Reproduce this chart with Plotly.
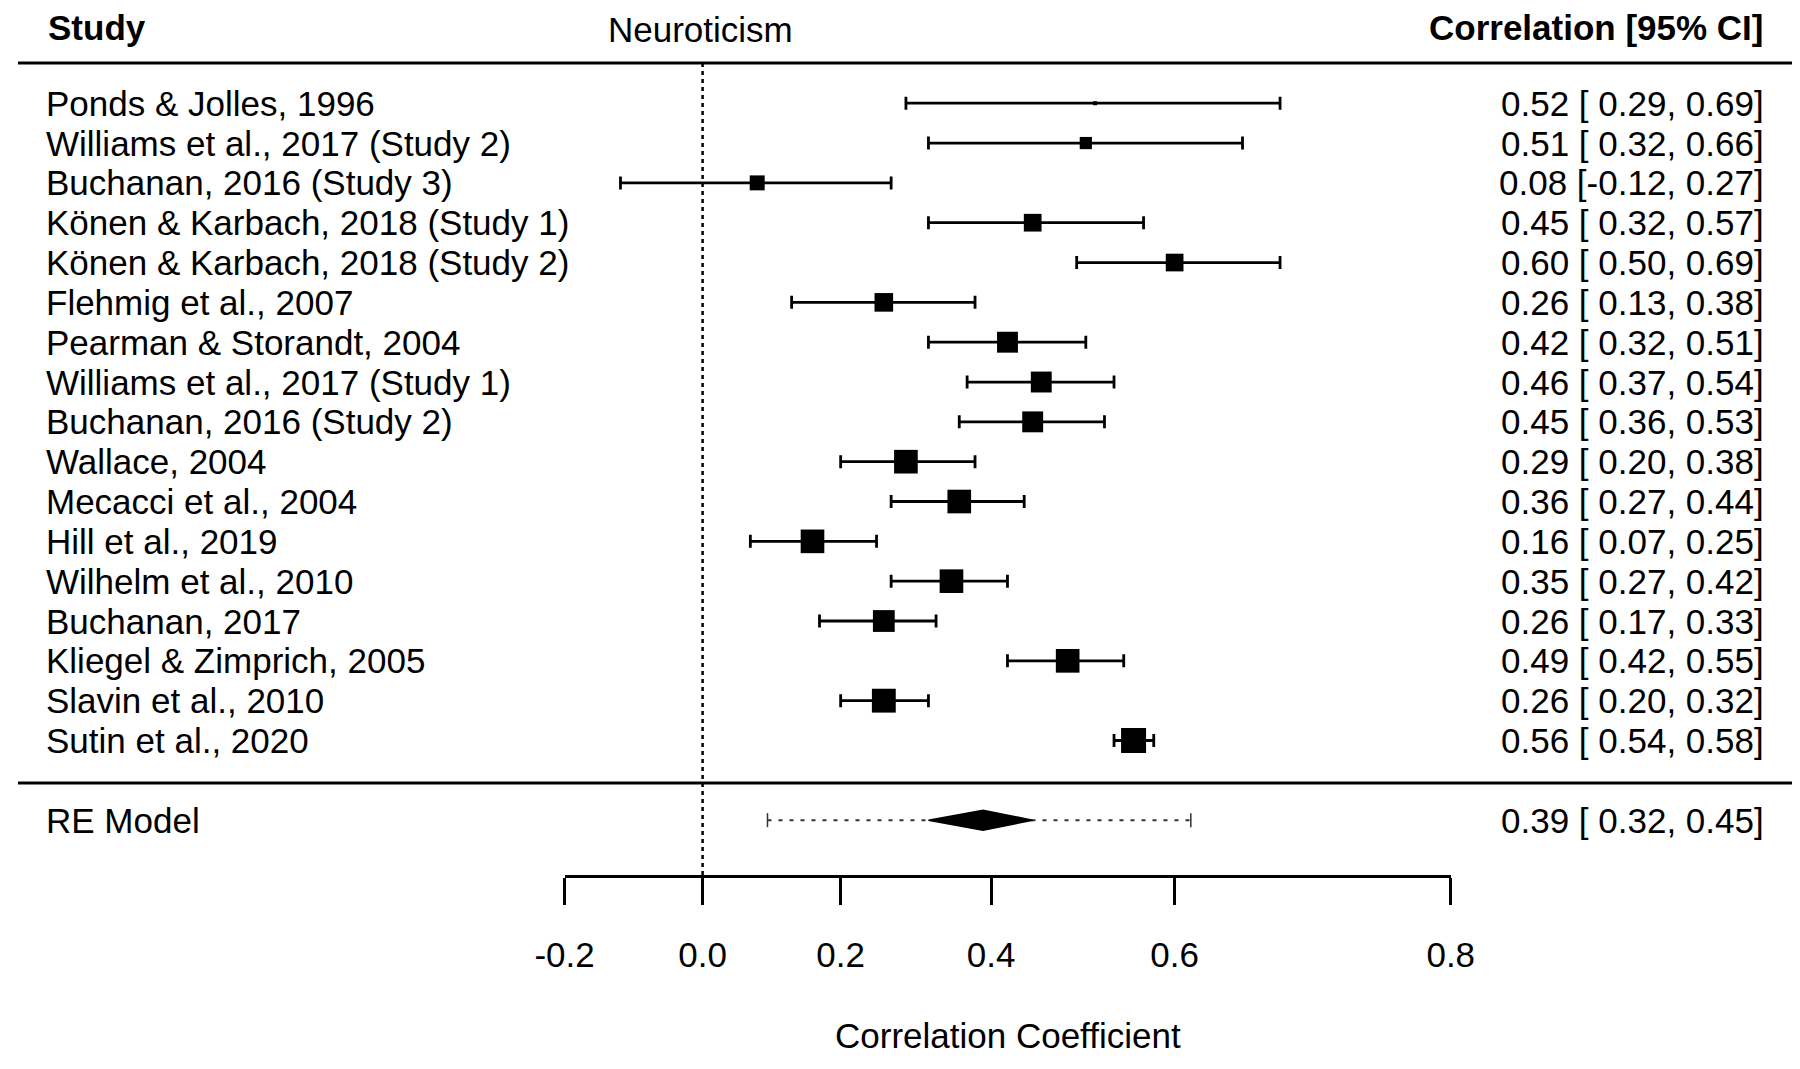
import numpy as np
import plotly.graph_objects as go

# ---------------- data ----------------
studies = [
    "Ponds & Jolles, 1996",
    "Williams et al., 2017 (Study 2)",
    "Buchanan, 2016 (Study 3)",
    "Könen & Karbach, 2018 (Study 1)",
    "Könen & Karbach, 2018 (Study 2)",
    "Flehmig et al., 2007",
    "Pearman & Storandt, 2004",
    "Williams et al., 2017 (Study 1)",
    "Buchanan, 2016 (Study 2)",
    "Wallace, 2004",
    "Mecacci et al., 2004",
    "Hill et al., 2019",
    "Wilhelm et al., 2010",
    "Buchanan, 2017",
    "Kliegel & Zimprich, 2005",
    "Slavin et al., 2010",
    "Sutin et al., 2020",
]
est = [0.52, 0.51, 0.08, 0.45, 0.60, 0.26, 0.42, 0.46, 0.45, 0.29, 0.36, 0.16, 0.35, 0.26, 0.49, 0.26, 0.56]
ci_lo = [0.29, 0.32, -0.12, 0.32, 0.50, 0.13, 0.32, 0.37, 0.36, 0.20, 0.27, 0.07, 0.27, 0.17, 0.42, 0.20, 0.54]
ci_hi = [0.69, 0.66, 0.27, 0.57, 0.69, 0.38, 0.51, 0.54, 0.53, 0.38, 0.44, 0.25, 0.42, 0.33, 0.55, 0.32, 0.58]
weights = [2.0, 3.8, 4.4, 5.0, 5.0, 5.2, 5.7, 5.7, 5.7, 6.3, 6.3, 6.3, 6.3, 5.9, 6.3, 6.35, 6.6]

re_label = "RE Model"
re_est, re_lo, re_hi = 0.39, 0.32, 0.45
pi_lo, pi_hi = 0.095, 0.615

tick_vals = [-0.2, 0.0, 0.2, 0.4, 0.6, 0.8]
header_left = "Study"
header_mid = "Neuroticism"
header_right = "Correlation [95% CI]"
x_title = "Correlation Coefficient"

# ---------------- layout constants (page pixels) ----------------
PAGE_W, PAGE_H = 1800, 1069
OFF = 8                          # default body margin of the html page
W, H = PAGE_W - 2 * OFF, PAGE_H - 2 * OFF
X0_PX = 702.6                    # page pixel of r = 0
PX_PER_Z = 681.0                 # pixels per Fisher-z unit
ROW1_PX = 740.5                  # page pixel of the lowest study row
ROW_PX = 39.83                   # row spacing in px

x0f = X0_PX - OFF
xmin = -x0f / PX_PER_Z
xmax = (W - x0f) / PX_PER_Z
r1f = ROW1_PX - OFF
ytop = 1 + r1f / ROW_PX
ybot = 1 - (H - r1f) / ROW_PX


def py(px):
    """page pixel from top -> paper y"""
    return 1 - (px - OFF) / H


def px_x(px):
    """page pixel from left -> paper x"""
    return (px - OFF) / W


FONT = "Liberation Sans, Arial, sans-serif"
FS = 35
BLACK = "#000000"

k = len(studies)
rows = list(range(k, 0, -1))
z = np.arctanh(np.array(est))
zlo = np.arctanh(np.array(ci_lo))
zhi = np.arctanh(np.array(ci_hi))

w = np.array(weights)
sizes = 4 + (w - w.min()) / (w.max() - w.min()) * 21

fig = go.Figure()

# study estimates with CIs
fig.add_trace(go.Scatter(
    x=z, y=rows, mode="markers",
    marker=dict(symbol="square", size=sizes, color=BLACK, opacity=1, line=dict(width=0)),
    error_x=dict(type="data", symmetric=False, array=zhi - z, arrayminus=z - zlo,
                 color=BLACK, thickness=2.8, width=6.5),
    hoverinfo="skip", showlegend=False,
))

# prediction interval (dotted)
re_y = -1
fig.add_trace(go.Scatter(
    x=np.arctanh([pi_lo, pi_hi]), y=[re_y, re_y], mode="lines+markers",
    line=dict(color="#333333", width=2, dash="4px,7px"),
    marker=dict(symbol="line-ns-open", size=10, opacity=1, line=dict(color="#333333", width=1.5)),
    hoverinfo="skip", showlegend=False,
))

# summary diamond
dh = 10 / ROW_PX
zr = np.arctanh([re_lo, re_est, re_hi, re_est, re_lo])
fig.add_trace(go.Scatter(
    x=zr, y=[re_y, re_y + dh, re_y, re_y - dh, re_y], mode="lines",
    fill="toself", fillcolor=BLACK, line=dict(color=BLACK, width=1.5),
    hoverinfo="skip", showlegend=False,
))

# dummy trace to activate the bottom axis
zt = np.arctanh(tick_vals)
fig.add_trace(go.Scatter(
    x=[zt[0], zt[-1]], y=[re_y, re_y], xaxis="x2", yaxis="y", mode="markers",
    marker=dict(opacity=0), hoverinfo="skip", showlegend=False,
))

shapes = []
# header rule and separator rule
for ypx in (63, 783):
    shapes.append(dict(type="line", xref="paper", yref="paper",
                       x0=px_x(18), x1=px_x(1795), y0=py(ypx), y1=py(ypx),
                       line=dict(color=BLACK, width=3)))
# reference line at r = 0
shapes.append(dict(type="line", xref="x", yref="paper", x0=0, x1=0,
                   y0=py(63), y1=py(876),
                   line=dict(color=BLACK, width=2.5, dash="4px,4px")))

annotations = []
for lab, r, e, lo, hi in zip(studies, rows, est, ci_lo, ci_hi):
    annotations.append(dict(text=lab, x=px_x(43.6), y=r, xref="paper", yref="y",
                            xanchor="left", yanchor="middle", showarrow=False,
                            font=dict(family=FONT, size=FS, color=BLACK)))
    annotations.append(dict(text=f"{e:.2f} [{lo:5.2f},{hi:5.2f}]", x=px_x(1766), y=r,
                            xref="paper", yref="y", xanchor="right", yanchor="middle",
                            showarrow=False, font=dict(family=FONT, size=FS, color=BLACK)))
annotations.append(dict(text=re_label, x=px_x(43.6), y=re_y, xref="paper", yref="y",
                        xanchor="left", yanchor="middle", showarrow=False,
                        font=dict(family=FONT, size=FS, color=BLACK)))
annotations.append(dict(text=f"{re_est:.2f} [{re_lo:5.2f},{re_hi:5.2f}]", x=px_x(1766), y=re_y,
                        xref="paper", yref="y", xanchor="right", yanchor="middle",
                        showarrow=False, font=dict(family=FONT, size=FS, color=BLACK)))
# headers
annotations.append(dict(text=f"<b>{header_left}</b>", x=px_x(46), y=py(28), xref="paper", yref="paper",
                        xanchor="left", yanchor="middle", showarrow=False,
                        font=dict(family=FONT, size=FS, color=BLACK)))
annotations.append(dict(text=header_mid, x=px_x(700), y=py(29), xref="paper", yref="paper",
                        xanchor="center", yanchor="middle", showarrow=False,
                        font=dict(family=FONT, size=FS, color=BLACK)))
annotations.append(dict(text=f"<b>{header_right}</b>", x=px_x(1766), y=py(28), xref="paper", yref="paper",
                        xanchor="right", yanchor="middle", showarrow=False,
                        font=dict(family=FONT, size=FS, color=BLACK)))
annotations.append(dict(text=x_title, x=(zt[0] + zt[-1]) / 2, y=py(1035), xref="x", yref="paper",
                        xanchor="center", yanchor="middle", showarrow=False,
                        font=dict(family=FONT, size=FS, color=BLACK)))

d0 = (zt[0] - xmin) / (xmax - xmin)
d1 = (zt[-1] - xmin) / (xmax - xmin)

fig.update_layout(
    width=W, height=H, autosize=False,
    margin=dict(l=0, r=0, t=0, b=0, pad=0, autoexpand=False),
    paper_bgcolor="white", plot_bgcolor="rgba(0,0,0,0)",
    showlegend=False,
    xaxis=dict(range=[xmin, xmax], visible=False, fixedrange=True, automargin=False),
    yaxis=dict(range=[ybot, ytop], visible=False, fixedrange=True, automargin=False),
    xaxis2=dict(domain=[d0, d1], range=[zt[0], zt[-1]], anchor="free", position=py(876),
                side="bottom", showline=True, linecolor=BLACK, linewidth=2.5,
                ticks="outside", ticklen=27, tickwidth=2.5, tickcolor=BLACK,
                tickmode="array", tickvals=list(zt), ticktext=[f"{t:.1f}" for t in tick_vals],
                tickfont=dict(family=FONT, size=FS, color=BLACK),
                ticklabelstandoff=20, automargin=False,
                showgrid=False, zeroline=False, fixedrange=True),
    shapes=shapes,
    annotations=annotations,
)

fig.write_html("out.html")
